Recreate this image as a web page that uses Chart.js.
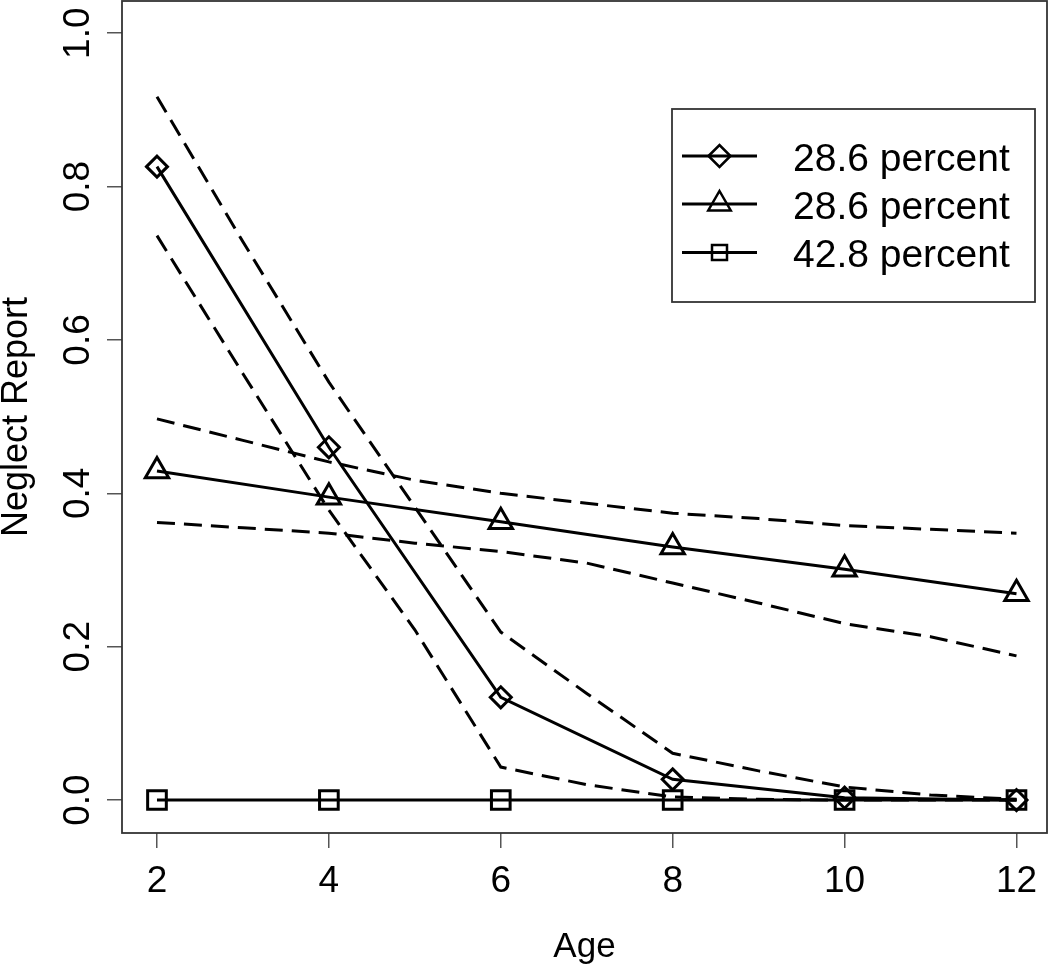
<!DOCTYPE html>
<html>
<head>
    <title>Neglect Report by Age</title>
    <script src="https://cdn.jsdelivr.net/npm/chart.js"></script>
    <style>
        body {
            margin: 0;
            background: #fff;
        }
        canvas {
            display: block;
        }
    </style>
</head>
<body>
    <canvas id="neglectChart" width="1050" height="966"></canvas>

    <script>
        // main series, one value per age
        const ages = [2, 4, 6, 8, 10, 12];
        const diamondVals = [0.826, 0.46, 0.134, 0.027, 0.003, 0.0];
        const triangleVals = [0.429, 0.395, 0.363, 0.330, 0.301, 0.269];
        const squareVals = [0, 0, 0, 0, 0, 0];

        // dashed bands, one value per year of age
        const bandAges = [2, 3, 4, 5, 6, 7, 8, 9, 10, 11, 12];
        const diamondUpper = [0.917, 0.728, 0.545, 0.382, 0.219, 0.139, 0.061, 0.038, 0.017, 0.0065, 0.001];
        const diamondLower = [0.736, 0.556, 0.378, 0.222, 0.043, 0.020, 0.004, 0.001, 0, 0, 0];
        const triangleUpper = [0.497, 0.469, 0.441, 0.417, 0.400, 0.387, 0.374, 0.367, 0.358, 0.353, 0.348];
        const triangleLower = [0.362, 0.355, 0.348, 0.335, 0.324, 0.309, 0.283, 0.257, 0.230, 0.213, 0.188];

        const xTicks = [2, 4, 6, 8, 10, 12];
        const yTicks = [0, 0.2, 0.4, 0.6, 0.8, 1.0];
        const legendLabels = ["28.6 percent", "28.6 percent", "42.8 percent"];
        const legendStyles = ["diamond", "triangle", "square"];

        const FONT = '"Liberation Sans", Arial, Helvetica, sans-serif';

        function toPoints(xs, ys) {
            return xs.map((x, i) => ({ x: x, y: ys[i] }));
        }

        function mainLine(data, style, radius) {
            return {
                data: data,
                borderColor: "#000",
                borderWidth: 3,
                pointStyle: style,
                pointRadius: radius,
                pointBorderWidth: 3,
                pointBorderColor: "#000",
                pointBackgroundColor: "rgba(0,0,0,0)",
                tension: 0
            };
        }

        function bandLine(data) {
            return {
                data: data,
                borderColor: "#000",
                borderWidth: 3,
                borderDash: [18, 9],
                pointRadius: 0,
                tension: 0
            };
        }

        function drawMarker(ctx, style, x, y) {
            ctx.beginPath();
            if (style === "diamond") {
                const r = 11;
                ctx.moveTo(x - r, y);
                ctx.lineTo(x, y - r);
                ctx.lineTo(x + r, y);
                ctx.lineTo(x, y + r);
                ctx.closePath();
            } else if (style === "triangle") {
                const r = 13;
                ctx.moveTo(x, y - r);
                ctx.lineTo(x + r * 0.866, y + r / 2);
                ctx.lineTo(x - r * 0.866, y + r / 2);
                ctx.closePath();
            } else {
                ctx.rect(x - 7.5, y - 7.5, 15, 15);
            }
            ctx.stroke();
        }

        // box, tick labels, titles and legend, drawn like base R graphics
        const framePlugin = {
            id: "frame",
            afterDraw(chart) {
                const ctx = chart.ctx;
                const area = chart.chartArea;
                const xs = chart.scales.x;
                const ys = chart.scales.y;

                ctx.save();
                ctx.strokeStyle = "#333";
                ctx.lineWidth = 1.8;
                ctx.strokeRect(area.left, area.top, area.right - area.left, area.bottom - area.top);

                ctx.fillStyle = "#000";
                ctx.font = "37px " + FONT;
                ctx.textAlign = "center";
                ctx.textBaseline = "middle";
                xTicks.forEach(v => {
                    ctx.fillText(String(v), xs.getPixelForValue(v), 882);
                });

                yTicks.forEach(v => {
                    ctx.save();
                    ctx.translate(79, ys.getPixelForValue(v));
                    ctx.rotate(-Math.PI / 2);
                    ctx.fillText(v.toFixed(1), 0, 0);
                    ctx.restore();
                });

                ctx.font = "35px " + FONT;
                ctx.textBaseline = "alphabetic";
                ctx.fillText("Age", (area.left + area.right) / 2, 957);

                ctx.save();
                ctx.translate(27, (area.top + area.bottom) / 2);
                ctx.rotate(-Math.PI / 2);
                ctx.font = "36px " + FONT;
                ctx.fillText("Neglect Report", 0, 0);
                ctx.restore();

                // legend
                const box = { left: 672, top: 109, right: 1035, bottom: 302 };
                ctx.fillStyle = "#fff";
                ctx.fillRect(box.left, box.top, box.right - box.left, box.bottom - box.top);
                ctx.strokeStyle = "#333";
                ctx.lineWidth = 1.8;
                ctx.strokeRect(box.left, box.top, box.right - box.left, box.bottom - box.top);

                const rowY = [156, 204, 252.5];
                ctx.font = "39px " + FONT;
                ctx.textAlign = "left";
                ctx.textBaseline = "middle";
                legendLabels.forEach((label, i) => {
                    const y = rowY[i];
                    ctx.strokeStyle = "#000";
                    ctx.lineWidth = 2.8;
                    ctx.beginPath();
                    ctx.moveTo(682, y);
                    ctx.lineTo(757, y);
                    ctx.stroke();
                    ctx.lineWidth = 2.5;
                    drawMarker(ctx, legendStyles[i], 719.5, y);
                    ctx.fillStyle = "#000";
                    ctx.fillText(label, 793, y + 4);
                });
                ctx.restore();
            }
        };

        const ctx = document.getElementById("neglectChart").getContext("2d");
        new Chart(ctx, {
            type: "line",
            data: {
                datasets: [
                    mainLine(toPoints(ages, diamondVals), "rectRot", 10.5),
                    mainLine(toPoints(ages, triangleVals), "triangle", 13.5),
                    mainLine(toPoints(ages, squareVals), "rect", 13.2),
                    bandLine(toPoints(bandAges, diamondUpper)),
                    bandLine(toPoints(bandAges, diamondLower)),
                    bandLine(toPoints(bandAges, triangleUpper)),
                    bandLine(toPoints(bandAges, triangleLower))
                ]
            },
            options: {
                responsive: false,
                animation: false,
                layout: {
                    autoPadding: false,
                    padding: { left: 0, top: 1, right: 3, bottom: 0 }
                },
                plugins: {
                    legend: { display: false },
                    tooltip: { enabled: false }
                },
                scales: {
                    x: {
                        type: "linear",
                        min: 1.593,
                        max: 12.355,
                        afterBuildTicks: scale => {
                            scale.ticks = xTicks.map(v => ({ value: v }));
                        },
                        afterFit: scale => {
                            scale.height = 133;
                        },
                        ticks: { display: false },
                        border: { display: false },
                        grid: {
                            drawOnChartArea: false,
                            drawTicks: true,
                            tickLength: 15,
                            color: "#555",
                            lineWidth: 1.5
                        }
                    },
                    y: {
                        type: "linear",
                        min: -0.043,
                        max: 1.042,
                        afterBuildTicks: scale => {
                            scale.ticks = yTicks.map(v => ({ value: v }));
                        },
                        afterFit: scale => {
                            scale.width = 122;
                        },
                        ticks: { display: false },
                        border: { display: false },
                        grid: {
                            drawOnChartArea: false,
                            drawTicks: true,
                            tickLength: 15,
                            color: "#555",
                            lineWidth: 1.5
                        }
                    }
                }
            },
            plugins: [framePlugin]
        });
    </script>
</body>
</html>
